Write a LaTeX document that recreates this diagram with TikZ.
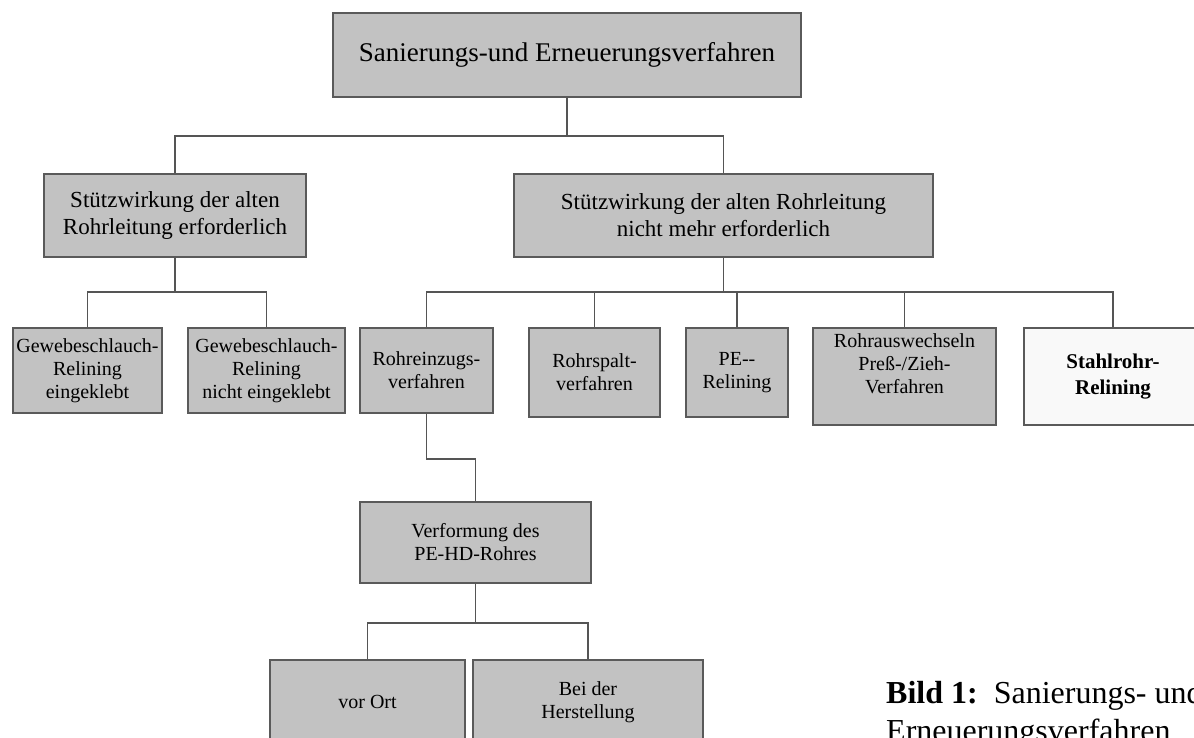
\documentclass[tikz,border=0pt]{standalone}
\usepackage{fontspec}
\setmainfont{Liberation Serif}
\definecolor{boxfill}{HTML}{C2C2C2}
\definecolor{boxline}{HTML}{5A5A5A}
\definecolor{connline}{HTML}{555555}
\definecolor{whitefill}{HTML}{F9F9F9}
\begin{document}
\begin{tikzpicture}[x=1pt,y=-1pt,
  box/.style={draw=boxline, line width=1.5pt, fill=boxfill, align=center, inner sep=0pt},
  wbox/.style={box, fill=whitefill},
  conn/.style={draw=connline, line width=1.8pt},
  tbig/.style={font=\fontsize{27}{31}\selectfont},
  tmid/.style={font=\fontsize{23}{27}\selectfont},
  tsm/.style={font=\fontsize{20}{23}\selectfont},
  tcap/.style={font=\fontsize{32}{38}\selectfont, align=left, inner sep=0pt}]
\useasboundingbox (0,0) rectangle (1194,737);
\fill[white] (0,0) rectangle (1194,737);

% level 1
\node[box, tbig, minimum width=468pt, minimum height=84pt] (title) at (567,55) {Sanierungs-und Erneuerungsverfahren};

% level 2
\node[box, tmid, minimum width=262pt, minimum height=83pt] (leftmid) at (175,215.5) {Stützwirkung der alten\\Rohrleitung erforderlich};
\node[box, tmid, minimum width=419pt, minimum height=83pt] (rightmid) at (723.5,215.5) {Stützwirkung der alten Rohrleitung\\nicht mehr erforderlich};

% level 3
\node[box, tsm, minimum width=149pt, minimum height=85pt] (gew1) at (87.5,370.5) {Gewebeschlauch-\\Relining\\eingeklebt};
\node[box, tsm, minimum width=157pt, minimum height=85pt] (gew2) at (266.5,370.5) {Gewebeschlauch-\\Relining\\nicht eingeklebt};
\node[box, tsm, minimum width=133pt, minimum height=85pt] (einzug) at (426.5,370.5) {Rohreinzugs-\\verfahren};
\node[box, tsm, minimum width=131pt, minimum height=89pt] (spalt) at (594.5,372.5) {Rohrspalt-\\verfahren};
\node[box, tsm, minimum width=102pt, minimum height=89pt] (pe) at (737,372.5) {PE-{}-\\Relining};
\node[box, minimum width=183pt, minimum height=97pt] (raus) at (904.5,376.5) {};
\node[tsm, align=center, inner sep=0pt] (rausT) at (904.5,364) {Rohrauswechseln\\Preß-/Zieh-\\Verfahren};
\node[wbox, font=\fontsize{21}{26}\selectfont\bfseries, minimum width=178pt, minimum height=97pt] (stahl) at (1113,376.5) {Stahlrohr-\\Relining};

% level 4/5
\node[box, tsm, minimum width=231pt, minimum height=81pt] (verf) at (475.5,542.5) {Verformung des\\PE-HD-Rohres};
\node[box, tsm, minimum width=195pt, minimum height=84pt] (ort) at (367.5,702) {vor Ort};
\node[box, tsm, minimum width=230pt, minimum height=84pt] (bei) at (588,702) {Bei der\\Herstellung};

% connectors
\coordinate (b1) at (567,136);
\coordinate (b2) at (175,292);
\coordinate (b3) at (723.5,292);
\coordinate (b4) at (426.5,459);
\coordinate (b5) at (475.5,623);

\draw[conn] (title.south) -- (b1);
\draw[conn] (leftmid.north) |- (b1) -| (rightmid.north);

\draw[conn] (leftmid.south) -- (b2);
\draw[conn] (gew1.north) |- (b2) -| (gew2.north);

\draw[conn] (rightmid.south) -- (b3);
\draw[conn] (einzug.north) |- (b3) -| (stahl.north);
\draw[conn] (spalt.north) -- (spalt.north |- b3);
\draw[conn] (pe.north) -- (pe.north |- b3);
\draw[conn] (raus.north) -- (raus.north |- b3);

\draw[conn] (einzug.south) -- (b4) -| (verf.north);

\draw[conn] (verf.south) -- (b5);
\draw[conn] (ort.north) |- (b5) -| (bei.north);

% caption (base anchor = baseline of the last line)
\node[tcap, anchor=base west] (cap) at (886,741) {\textbf{Bild 1:}\ \ Sanierungs- und\\Erneuerungsverfahren};
\end{tikzpicture}
\end{document}
